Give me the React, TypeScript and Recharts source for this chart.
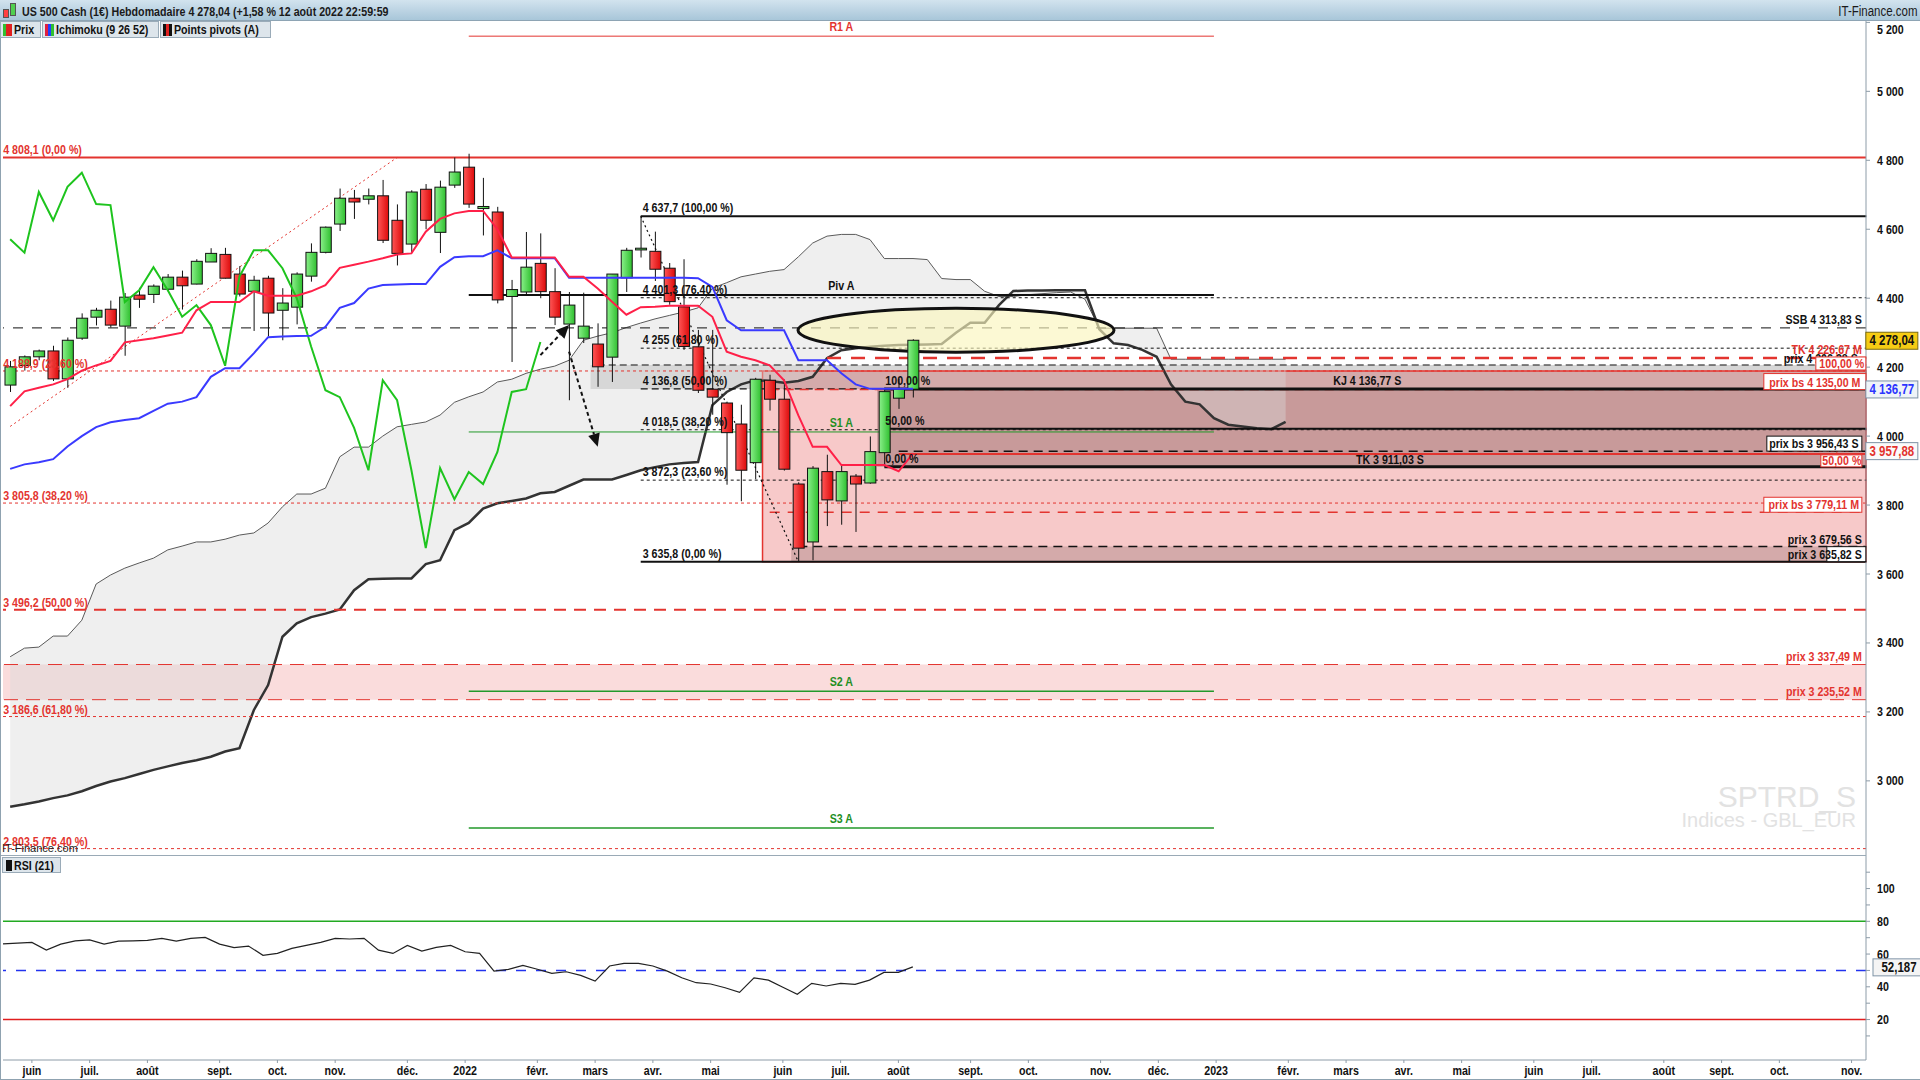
import React from 'react';
import { ComposedChart, Bar, Line, Area, XAxis, YAxis, ReferenceLine, ReferenceArea, ReferenceDot } from 'recharts';

const FONT = "'Liberation Sans', Arial, Helvetica, sans-serif";
const SQUEEZE = 0.82;
const AXIS = '#8d9ca8';
const RED = '#e3342f';
const GREEN_TXT = '#1f8f1f';

const FIRST_WEEK = -32; // week index 0 = week of 3 Jan 2022
const LAST_WEEK = 97;
const PRICE_MIN = 2785;
const PRICE_MAX = 5204;
const RSI_MIN = -4.7;
const RSI_MAX = 120.5;

// Weekly candles, weeks -32 .. 31
const opens = [
  4148, 4205, 4230, 4247, 4166, 4284, 4345, 4368, 4319, 4409,
  4411, 4426, 4461, 4441, 4505, 4527, 4470, 4420, 4458, 4365,
  4374, 4464, 4533, 4615, 4690, 4687, 4697, 4626, 4557, 4716,
  4591, 4728, 4780, 4660, 4650, 4405, 4418, 4501, 4419, 4325,
  4284, 4267, 4229, 4459, 4540, 4536, 4487, 4375, 4259, 4136,
  4096, 4035, 3923, 4162, 4107, 3861, 3693, 3897, 3812, 3884,
  3864, 3952, 4110, 4136,
];
const highs = [
  4218, 4234, 4251, 4262, 4286, 4356, 4372, 4393, 4415, 4430,
  4440, 4470, 4480, 4513, 4545, 4546, 4493, 4465, 4465, 4429,
  4475, 4559, 4608, 4718, 4714, 4718, 4743, 4672, 4713, 4731,
  4741, 4808, 4819, 4749, 4665, 4453, 4592, 4588, 4487, 4418,
  4416, 4327, 4470, 4546, 4637, 4593, 4502, 4513, 4308, 4308,
  4100, 4091, 4169, 4178, 4164, 3866, 3913, 3946, 3918, 3890,
  3999, 4140, 4167, 4281,
];
const lows = [
  4128, 4190, 4220, 4160, 4140, 4279, 4321, 4315, 4233, 4372,
  4386, 4420, 4367, 4440, 4505, 4457, 4405, 4305, 4289, 4278,
  4324, 4448, 4530, 4595, 4630, 4672, 4560, 4495, 4532, 4600,
  4531, 4720, 4662, 4582, 4385, 4215, 4409, 4400, 4322, 4104,
  4270, 4143, 4157, 4418, 4518, 4450, 4381, 4250, 4125, 4062,
  3859, 3811, 3875, 4074, 3900, 3636, 3640, 3739, 3743, 3722,
  3862, 3913, 4079, 4112,
];
const closes = [
  4201, 4230, 4247, 4166, 4278, 4342, 4365, 4322, 4403, 4397,
  4435, 4461, 4436, 4507, 4530, 4458, 4412, 4452, 4357, 4386,
  4470, 4533, 4606, 4690, 4679, 4697, 4568, 4530, 4708, 4626,
  4722, 4766, 4673, 4666, 4395, 4425, 4490, 4419, 4345, 4380,
  4319, 4201, 4470, 4539, 4545, 4484, 4390, 4260, 4133, 4113,
  4010, 3901, 4165, 4107, 3904, 3675, 3907, 3815, 3897, 3861,
  3955, 4129, 4136, 4278,
];

// Ichimoku lines
const tenkan = [
  4087, 4130, 4140, 4150, 4165, 4190, 4205, 4218, 4272, 4278,
  4284, 4292, 4300, 4365, 4389, 4389, 4389, 4420, 4407, 4407,
  4407, 4420, 4438, 4488, 4497, 4506, 4516, 4527, 4530, 4593,
  4630, 4646, 4653, 4653, 4600, 4518, 4518, 4518, 4518, 4462,
  4462, 4428, 4390, 4352, 4374, 4375, 4378, 4378, 4378, 4346,
  4245, 4230, 4220, 4205, 4162, 4060, 3969, 3969, 3916, 3916,
  3916, 3916, 3898, 3950,
];
const kijun = [
  3905, 3918, 3924, 3933, 3970, 4000, 4026, 4040, 4047, 4052,
  4073, 4094, 4100, 4113, 4172, 4197, 4197, 4240, 4287, 4289,
  4290, 4291, 4317, 4372, 4386, 4428, 4438, 4440, 4441, 4441,
  4491, 4519, 4522, 4522, 4539, 4516, 4516, 4516, 4516, 4459,
  4459, 4459, 4459, 4459, 4459, 4459, 4459, 4459, 4458, 4433,
  4336, 4307, 4307, 4307, 4307, 4220, 4220, 4220, 4182, 4150,
  4137, 4137, 4137, 4137,
];
// Chikou span, weeks -32 .. 5
const chikou = [
  4571, 4532, 4708, 4626, 4723, 4764, 4673, 4670, 4389, 4423,
  4490, 4423, 4346, 4380, 4322, 4204, 4463, 4539, 4539, 4487,
  4400, 4260, 4133, 4113, 4024, 3901, 4162, 4104, 3901, 3675,
  3907, 3817, 3896, 3861, 3954, 4128, 4136, 4273,
];
// Cloud boundaries, weeks -32 .. 57
const cloudThin = [
  3360, 3385, 3388, 3420, 3420, 3466, 3571, 3597, 3617, 3632,
  3646, 3670, 3681, 3693, 3693, 3701, 3713, 3719, 3748, 3795,
  3832, 3832, 3849, 3940, 3968, 3968, 4000, 4027, 4034, 4041,
  4061, 4098, 4114, 4128, 4157, 4165, 4182, 4194, 4203, 4220,
  4278, 4290, 4300, 4315, 4328, 4340, 4350, 4360, 4372, 4429,
  4445, 4462, 4470, 4478, 4483, 4520, 4560, 4580, 4585, 4585,
  4570, 4515, 4515, 4515, 4512, 4457, 4454, 4454, 4420, 4405,
  4405, 4410, 4413, 4416, 4418, 4397, 4313, 4313, 4313, 4313,
  4313, 4223, 4223, 4223, 4223, 4223, 4223, 4223, 4223, 4223,
];
const cloudThick = [
  2925, 2932, 2940, 2950, 2958, 2970, 2985, 2998, 3008, 3020,
  3032, 3042, 3052, 3060, 3070, 3085, 3095, 3205, 3278, 3418,
  3457, 3475, 3485, 3497, 3553, 3585, 3586, 3587, 3587, 3629,
  3640, 3727, 3748, 3790, 3805, 3812, 3819, 3834, 3838, 3856,
  3874, 3874, 3874, 3887, 3901, 3910, 3918, 3922, 3925, 4090,
  4128, 4150, 4162, 4160, 4155, 4160, 4172, 4226, 4249, 4255,
  4259, 4262, 4264, 4265, 4266, 4267, 4300, 4329, 4329, 4380,
  4421, 4422, 4422, 4423, 4423, 4423, 4310, 4269, 4264, 4250,
  4230, 4150, 4100, 4092, 4052, 4033, 4028, 4023, 4020, 4041,
];
// RSI(21), weeks -32 .. 31
const rsiValues = [
  66.2, 66.7, 67.1, 62.4, 66.1, 68.1, 68.7, 66.1, 67.9, 68.1,
  68.4, 69.6, 67.9, 69.6, 70.2, 66.1, 63.9, 64.9, 59.2, 60.4,
  63.5, 65.3, 67.1, 69.6, 69.2, 69.6, 62.4, 60.4, 65.3, 61.8,
  64.1, 65.3, 61.4, 60.4, 49.6, 50.7, 53.1, 50.7, 48.2, 49.2,
  47.0, 43.5, 52.7, 54.3, 54.3, 52.7, 49.6, 45.5, 42.5, 41.7,
  39.4, 36.6, 45.5, 44.1, 39.7, 35.4, 42.1, 40.5, 42.1, 41.5,
  44.1, 48.8, 48.8, 52.187,
];

const priceTicks = [3000, 3200, 3400, 3600, 3800, 4000, 4200, 4400, 4600, 4800, 5000, 5200];
const rsiTicks = [10, 20, 30, 40, 50, 60, 70, 80, 90, 100, 110];
const rsiLabelled = [20, 40, 60, 80, 100];
const monthWeeks = [-30, -26, -22, -17, -13, -9, -4, 0, 5, 9, 13, 17, 22, 26, 30, 35, 39, 44, 48, 52, 57, 61, 65, 69, 74, 78, 83, 87, 91, 96];
const monthLabels = ['juin', 'juil.', 'août', 'sept.', 'oct.', 'nov.', 'déc.', '2022', 'févr.', 'mars', 'avr.', 'mai', 'juin', 'juil.', 'août', 'sept.', 'oct.', 'nov.', 'déc.', '2023', 'févr.', 'mars', 'avr.', 'mai', 'juin', 'juil.', 'août', 'sept.', 'oct.', 'nov.'];

const pivotValues = [5160, 4409, 4012, 3260, 2863];
const pivotLabels = ['R1 A', 'Piv A', 'S1 A', 'S2 A', 'S3 A'];
const fibRedValues = [4808.1, 4188.9, 3805.8, 3496.2, 3186.6, 2803.5];
const fibRedLabels = ['4 808,1 (0,00 %)', '4 188,9 (23,60 %)', '3 805,8 (38,20 %)', '3 496,2 (50,00 %)', '3 186,6 (61,80 %)', '2 803,5 (76,40 %)'];
const fibBlackValues = [4637.7, 4401.3, 4255, 4136.8, 4018.5, 3872.3, 3635.8];
const fibBlackLabels = ['4 637,7 (100,00 %)', '4 401,3 (76,40 %)', '4 255 (61,80 %)', '4 136,8 (50,00 %)', '4 018,5 (38,20 %)', '3 872,3 (23,60 %)', '3 635,8 (0,00 %)'];
const fibSmallValues = [4136.77, 4021, 3911.03];
const fibSmallLabels = ['100,00 %', '50,00 %', '0,00 %'];
const lastPrice = 4278.04;
const kijunLast = 4136.77;
const redAxisValue = 3957.88;
const rsiLast = 52.187;

const rows: any[] = [];
for (let w = FIRST_WEEK; w <= LAST_WEEK; w++) {
  const i = w - FIRST_WEEK;
  const r: any = { w };
  if (i < opens.length) {
    r.o = opens[i]; r.h = highs[i]; r.l = lows[i]; r.c = closes[i];
    r.range = [lows[i], highs[i]];
    r.tenkan = tenkan[i]; r.kijun = kijun[i]; r.rsi = rsiValues[i];
  }
  if (i < chikou.length) r.chikou = chikou[i];
  if (i < cloudThin.length) {
    r.thin = cloudThin[i]; r.thick = cloudThick[i];
    r.cloud = [Math.min(cloudThin[i], cloudThick[i]), Math.max(cloudThin[i], cloudThick[i])];
  }
  rows.push(r);
}

const fmtThousands = (v: number) => {
  const s = String(v);
  return s.length > 3 ? s.slice(0, s.length - 3) + ' ' + s.slice(s.length - 3) : s;
};

// condensed bold text (narrow face emulated by horizontal squeeze)
const NText = ({ x, y, anchor = 'start', fill = '#111', size = 13, weight = 700, children }: any) => (
  <text transform={`translate(${x} ${y}) scale(${SQUEEZE} 1)`} x={0} y={0} textAnchor={anchor} fill={fill} fontSize={size} fontWeight={weight} fontFamily={FONT}>{children}</text>
);

const NSpan = ({ children, origin = 'left center', style = {} }: any) => (
  <span style={{ display: 'inline-block', transform: `scaleX(${SQUEEZE})`, transformOrigin: origin, whiteSpace: 'nowrap', fontFamily: FONT, fontWeight: 700, fontSize: 13, color: '#111', ...style }}>{children}</span>
);

const Candle = (p: any) => {
  const { x, y, width, height, payload } = p;
  if (!payload || payload.o == null || !isFinite(y)) return <g />;
  const { o, h, l, c } = payload;
  const span = h - l || 1;
  const yOf = (v: number) => y + ((h - v) / span) * height;
  const top = yOf(Math.max(o, c));
  const bot = yOf(Math.min(o, c));
  const up = c >= o;
  const cx = x + width / 2;
  return (
    <g>
      <line x1={cx} x2={cx} y1={y} y2={y + height} stroke="#111" strokeWidth={1} />
      <rect x={x} y={top} width={width} height={Math.max(bot - top, 1.5)} fill={up ? 'url(#gUp)' : 'url(#gDn)'} stroke="#111" strokeWidth={1} />
    </g>
  );
};

const PriceTick = (p: any) => (
  <NText x={p.x + 5} y={Math.max(p.y, 29) + 4.5}>{fmtThousands(p.payload.value)}</NText>
);
const RsiTick = (p: any) => (
  rsiLabelled.indexOf(p.payload.value) >= 0 ? <NText x={p.x + 5} y={p.y + 4.5}>{p.payload.value}</NText> : <g />
);
const MonthTick = (p: any) => {
  const idx = monthWeeks.indexOf(p.payload.value);
  return <NText x={p.x} y={p.y + 10} anchor="middle">{idx >= 0 ? monthLabels[idx] : ''}</NText>;
};

function label(key: string, w: number, y: number, text: string, o: any = {}) {
  const shape = (p: any) => (
    <g>
      {o.box ? (
        <rect x={p.cx + o.box[0]} y={p.cy + o.box[1]} width={o.box[2]} height={o.box[3]} fill={o.boxFill || '#fff'} stroke={o.boxStroke || RED} strokeWidth={1} />
      ) : null}
      <NText x={p.cx + (o.dx || 0)} y={p.cy + (o.dy || 0)} anchor={o.anchor || 'start'} fill={o.color || '#111'} size={o.size || 13}>{text}</NText>
    </g>
  );
  return <ReferenceDot key={key} x={w} y={y} r={0} ifOverflow="visible" shape={shape} zIndex={2000} />;
}

const segShape = (extend: boolean) => (p: any) => (
  <line x1={p.x1} y1={p.y1} x2={p.x2 + (extend ? 7.5 : 0)} y2={p.y2} stroke={p.stroke} strokeWidth={p.strokeWidth} strokeDasharray={p.strokeDasharray} />
);

function seg(key: string, x1: number, x2: number, y: number, stroke: string, width: number, dash?: string) {
  return (
    <ReferenceLine key={key} segment={[{ x: x1, y }, { x: x2, y }]} stroke={stroke} strokeWidth={width} strokeDasharray={dash} shape={segShape(x2 === LAST_WEEK)} ifOverflow="visible" zIndex={200} />
  );
}

const arrowShape = (p: any) => {
  const { x1, y1, x2, y2 } = p;
  const ang = Math.atan2(y2 - y1, x2 - x1);
  const L = 13, W = 6;
  const bx = x2 - L * Math.cos(ang), by = y2 - L * Math.sin(ang);
  const px = -Math.sin(ang) * W, py = Math.cos(ang) * W;
  return (
    <g>
      <line x1={x1} y1={y1} x2={bx} y2={by} stroke="#111" strokeWidth={2} strokeDasharray="4 3" />
      <polygon points={`${x2},${y2} ${bx + px},${by + py} ${bx - px},${by - py}`} fill="#111" />
    </g>
  );
};

const ellipseShape = (p: any) => (
  <ellipse cx={p.cx} cy={p.cy} rx={158} ry={22} fill="#fbf6bd" fillOpacity={0.65} stroke="#111" strokeWidth={3} />
);

const Btn = ({ left, width, children }: any) => (
  <div style={{ position: 'absolute', left, top: 21, width, height: 17, background: '#dde5eb', border: '1px solid #9aabb8', boxSizing: 'border-box', display: 'flex', alignItems: 'center', gap: 2, paddingLeft: 2, whiteSpace: 'nowrap', overflow: 'hidden' }}>{children}</div>
);
const Sw = ({ colors }: any) => (
  <span style={{ display: 'inline-flex', height: 12, flex: 'none' }}>
    {colors.map((c: string, i: number) => <span key={i} style={{ width: 3, height: 12, background: c, display: 'inline-block' }} />)}
  </span>
);

export default function App() {
  return (
    <div style={{ position: 'absolute', left: 0, top: 0, width: 1920, height: 1080, background: '#fff', overflow: 'hidden' }}>
      {/* main price panel */}
      <div style={{ position: 'absolute', left: 0, top: 0 }}>
        <ComposedChart width={1920} height={855} data={rows} margin={{ top: 21, right: 0, bottom: 0, left: 3 }}>
          <defs>
            <linearGradient id="gUp" x1="0" y1="0" x2="1" y2="0">
              <stop offset="0" stopColor="#8af08a" />
              <stop offset="1" stopColor="#2fbf2f" />
            </linearGradient>
            <linearGradient id="gDn" x1="0" y1="0" x2="1" y2="0">
              <stop offset="0" stopColor="#ff5656" />
              <stop offset="1" stopColor="#dc0a0a" />
            </linearGradient>
          </defs>
          <XAxis dataKey="w" hide />
          <YAxis orientation="right" width={54} domain={[PRICE_MIN, PRICE_MAX]} ticks={priceTicks} interval={0} allowDataOverflow tick={<PriceTick />} tickSize={4} tickLine={{ stroke: AXIS }} axisLine={{ stroke: AXIS }} />

          {/* zones */}
          <ReferenceArea x1={9} x2={LAST_WEEK} y1={4136.8} y2={4206.28} fill="#d6d6d6" fillOpacity={1} stroke="none" zIndex={100} />
          <ReferenceArea y1={3235.52} y2={3337.49} fill="#fadcdc" fillOpacity={1} stroke="none" zIndex={100} />
          <ReferenceArea x1={21} x2={LAST_WEEK} y1={3635.8} y2={4188.9} fill="#f7c9c9" fillOpacity={1} stroke="none" zIndex={100} />
          <ReferenceArea x1={21} x2={LAST_WEEK} y1={4136.8} y2={4188.9} fill="#d4aaaa" fillOpacity={1} stroke="none" zIndex={100} />
          <ReferenceArea x1={29} x2={LAST_WEEK} y1={3911.03} y2={4136.77} fill="#c89a9a" fillOpacity={1} stroke="none" zIndex={100} />
          <ReferenceArea x1={23} x2={LAST_WEEK} y1={3635.8} y2={3679.56} fill="#d4aaaa" fillOpacity={1} stroke="none" zIndex={100} />
          <ReferenceArea x1={21} x2={LAST_WEEK} y1={3635.8} y2={4188.9} fill="none" fillOpacity={0} stroke={RED} strokeWidth={1.5} zIndex={100} />

          {/* cloud */}
          <Area dataKey="cloud" fill="#d8d8d8" fillOpacity={0.42} stroke="none" isAnimationActive={false} connectNulls={false} zIndex={100} />
          <Line dataKey="thin" stroke="#5a5a5a" strokeWidth={1} dot={false} isAnimationActive={false} zIndex={150} />
          <Line dataKey="thick" stroke="#333" strokeWidth={2.5} dot={false} isAnimationActive={false} zIndex={150} />

          {/* full width levels */}
          <ReferenceLine y={fibRedValues[0]} stroke={RED} strokeWidth={2} zIndex={200} />
          <ReferenceLine y={fibRedValues[1]} stroke={RED} strokeWidth={1} strokeDasharray="3 3" zIndex={200} />
          <ReferenceLine y={fibRedValues[2]} stroke={RED} strokeWidth={1} strokeDasharray="3 3" zIndex={200} />
          <ReferenceLine y={fibRedValues[3]} stroke={RED} strokeWidth={2} strokeDasharray="12 8" zIndex={200} />
          <ReferenceLine y={fibRedValues[4]} stroke={RED} strokeWidth={1} strokeDasharray="3 3" zIndex={200} />
          <ReferenceLine y={fibRedValues[5]} stroke={RED} strokeWidth={1} strokeDasharray="3 3" zIndex={200} />
          <ReferenceLine y={4313.83} stroke="#111" strokeWidth={1} strokeDasharray="10 9" zIndex={200} />
          <ReferenceLine y={3337.49} stroke={RED} strokeWidth={1} strokeDasharray="14 8" zIndex={200} />
          <ReferenceLine y={3235.52} stroke={RED} strokeWidth={1} strokeDasharray="14 8" zIndex={200} />

          {/* pivots */}
          {seg('r1', 0, 52, pivotValues[0], RED, 1)}
          {seg('pv', 0, 52, pivotValues[1], '#111', 2)}
          {seg('s1', 0, 52, pivotValues[2], '#22992a', 1)}
          {seg('s2', 0, 52, pivotValues[3], '#22992a', 1.5)}
          {seg('s3', 0, 52, pivotValues[4], '#22992a', 1.5)}

          {/* black fibonacci */}
          {seg('fb0', 12, LAST_WEEK, fibBlackValues[0], '#111', 2)}
          {seg('fb1', 12, LAST_WEEK, fibBlackValues[1], '#111', 1, '3 3')}
          {seg('fb2', 12, LAST_WEEK, fibBlackValues[2], '#111', 1, '3 3')}
          {seg('fb3', 12, LAST_WEEK, fibBlackValues[3], '#111', 1.2, '7 4')}
          {seg('fb4', 12, LAST_WEEK, fibBlackValues[4], '#111', 1, '3 3')}
          {seg('fb5', 12, LAST_WEEK, fibBlackValues[5], '#111', 1, '3 3')}
          {seg('fb6', 12, LAST_WEEK, fibBlackValues[6], '#111', 2)}

          {/* other levels */}
          {seg('tkm', 25, LAST_WEEK, 4226.67, RED, 2.5, '14 10')}
          {seg('p4206', 9, LAST_WEEK, 4206.28, '#111', 1, '7 4')}
          {seg('pbs4135', 21, LAST_WEEK, 4135, RED, 1.5, '9 6')}
          {seg('pbs3779', 21, LAST_WEEK, 3779.11, RED, 1.5, '10 8')}
          {seg('p3679', 23, LAST_WEEK, 3679.56, '#111', 1.5, '9 6')}
          {seg('kjm', 30, LAST_WEEK, 3948.43, RED, 2)}
          {seg('pbs3956', 30, LAST_WEEK, 3956.43, '#111', 1.5, '9 6')}
          {seg('fs0', 29, LAST_WEEK, fibSmallValues[0], '#111', 3)}
          {seg('fs1', 29, LAST_WEEK, fibSmallValues[1], '#111', 2)}
          {seg('fs2', 29, LAST_WEEK, fibSmallValues[2], '#111', 3)}

          {/* diagonals */}
          <ReferenceLine segment={[{ x: -32, y: 4028 }, { x: -5, y: 4808.1 }]} stroke={RED} strokeWidth={1} strokeDasharray="2 3" ifOverflow="visible" zIndex={200} />
          <ReferenceLine segment={[{ x: 12, y: 4637.7 }, { x: 23, y: 3635.8 }]} stroke="#111" strokeWidth={1.2} strokeDasharray="2 3" ifOverflow="visible" zIndex={200} />

          {/* highlighted zone */}
          <ReferenceDot x={34} y={4307} r={0} ifOverflow="visible" shape={ellipseShape} zIndex={250} />

          {/* candles */}
          <Bar dataKey="range" barSize={11} shape={Candle} isAnimationActive={false} zIndex={300} />

          {/* ichimoku */}
          <Line dataKey="chikou" stroke="#1ec41e" strokeWidth={2} dot={false} isAnimationActive={false} zIndex={400} />
          <Line dataKey="kijun" stroke="#3a3aff" strokeWidth={2} dot={false} isAnimationActive={false} zIndex={400} />
          <Line dataKey="tenkan" stroke="#ff2048" strokeWidth={2} dot={false} isAnimationActive={false} zIndex={400} />

          {/* arrows */}
          <ReferenceLine segment={[{ x: 5, y: 4235 }, { x: 7, y: 4322 }]} shape={arrowShape} ifOverflow="visible" zIndex={2000} />
          <ReferenceLine segment={[{ x: 7, y: 4245 }, { x: 9, y: 3969 }]} shape={arrowShape} ifOverflow="visible" zIndex={2000} />

          {/* labels */}
          {fibRedValues.map((v, i) => label('fr' + i, FIRST_WEEK, v, fibRedLabels[i], { dx: -7, dy: -3, color: RED }))}
          {fibBlackValues.map((v, i) => label('fbl' + i, 12, v, fibBlackLabels[i], { dx: 2, dy: -4 }))}
          {fibSmallValues.map((v, i) => label('fsl' + i, 29, v, fibSmallLabels[i], { dx: 1, dy: -4 }))}
          {pivotValues.map((v, i) => label('pl' + i, 26, v, pivotLabels[i], { anchor: 'middle', dy: -5, color: i === 0 ? RED : i === 1 ? '#111' : GREEN_TXT }))}

          {label('ssb', LAST_WEEK, 4313.83, 'SSB 4 313,83 S', { anchor: 'end', dx: 3, dy: -4 })}
          {label('tkm', LAST_WEEK, 4226.67, 'TK 4 226,67 M', { anchor: 'end', dx: 3, dy: -4, color: RED })}
          {label('p4206', LAST_WEEK, 4206.28, 'prix 4 206,28 S', { anchor: 'end', dx: -1, dy: -2 })}
          {label('f100', LAST_WEEK, 4188.9, '100,00 %', { anchor: 'middle', dx: -17, dy: -3, color: RED, box: [-43, -14, 50, 13] })}
          {label('pbs4135', LAST_WEEK, 4135, 'prix bs 4 135,00 M', { anchor: 'middle', dx: -44, dy: -3, color: RED, box: [-95, -16, 102, 16] })}
          {label('kj4136', 62, 4136.77, 'KJ 4 136,77 S', { anchor: 'middle', dx: 10, dy: -4 })}
          {label('kjm', LAST_WEEK, 3948.43, 'KJ 3 948,43 M', { anchor: 'end', dx: 3, dy: -2, color: RED })}
          {label('pbs3956', LAST_WEEK, 3956.43, 'prix bs 3 956,43 S', { anchor: 'middle', dx: -45, dy: -3, box: [-92, -15, 95, 15], boxStroke: '#111' })}
          {label('f50', LAST_WEEK, 3948.43, '50,00 %', { anchor: 'middle', dx: -17, dy: 11, color: RED, box: [-38, 1, 41, 12] })}
          {label('tk3911', 64, 3911.03, 'TK 3 911,03 S', { anchor: 'middle', dx: 4, dy: -3 })}
          {label('pbs3779', LAST_WEEK, 3779.11, 'prix bs 3 779,11 M', { anchor: 'middle', dx: -45, dy: -3, color: RED, box: [-95, -15, 98, 15] })}
          {label('p3679', LAST_WEEK, 3679.56, 'prix 3 679,56 S', { anchor: 'end', dx: 3, dy: -3 })}
          {label('p3635', LAST_WEEK, 3635.82, 'prix 3 635,82 S', { anchor: 'end', dx: 3, dy: -3, box: [-32, -15, 39, 15], boxStroke: '#111' })}
          {label('p3337', LAST_WEEK, 3337.49, 'prix 3 337,49 M', { anchor: 'end', dx: 3, dy: -4, color: RED })}
          {label('p3235', LAST_WEEK, 3235.52, 'prix 3 235,52 M', { anchor: 'end', dx: 3, dy: -4, color: RED })}

          {/* axis value boxes */}
          {label('ax1', LAST_WEEK, lastPrice, '4 278,04', { anchor: 'middle', dx: 33, dy: 5, size: 14, box: [7, -8, 52, 17], boxFill: '#f6cc14', boxStroke: '#7a6a10' })}
          {label('ax2', LAST_WEEK, kijunLast, '4 136,77', { anchor: 'middle', dx: 33, dy: 5, size: 14, color: '#2b35ff', box: [7, -8, 52, 17], boxFill: '#eef3f8', boxStroke: '#7f93a6' })}
          {label('ax3', LAST_WEEK, redAxisValue, '3 957,88', { anchor: 'middle', dx: 33, dy: 5, size: 14, color: RED, box: [7, -8, 52, 17], boxFill: '#fafafa', boxStroke: '#7f93a6' })}
        </ComposedChart>
      </div>

      {/* RSI panel */}
      <div style={{ position: 'absolute', left: 0, top: 855 }}>
        <ComposedChart width={1920} height={225} data={rows} margin={{ top: 0, right: 0, bottom: 0, left: 3 }}>
          <XAxis dataKey="w" ticks={monthWeeks} interval={0} height={20} tick={<MonthTick />} tickSize={3} tickLine={{ stroke: AXIS }} axisLine={{ stroke: AXIS }} />
          <YAxis orientation="right" width={54} domain={[RSI_MIN, RSI_MAX]} ticks={rsiTicks} interval={0} allowDataOverflow tick={<RsiTick />} tickSize={4} tickLine={{ stroke: AXIS }} axisLine={{ stroke: AXIS }} />
          <ReferenceLine y={80} stroke="#22aa22" strokeWidth={1.5} />
          <ReferenceLine y={20} stroke="#e01e1e" strokeWidth={1.5} />
          <ReferenceLine y={50} stroke="#2233ee" strokeWidth={1.5} strokeDasharray="10 10" />
          <Line dataKey="rsi" stroke="#222" strokeWidth={1.2} dot={false} isAnimationActive={false} />
          {label('rsiax', LAST_WEEK, rsiLast, '52,187', { anchor: 'middle', dx: 33, dy: 5, size: 14, box: [7, -8, 52, 17], boxFill: '#f4f4f4', boxStroke: '#7f93a6' })}
        </ComposedChart>
      </div>

      {/* frame lines */}
      <div style={{ position: 'absolute', left: 0, top: 855, width: 1866, height: 1, background: '#9aaab6' }} />
      <div style={{ position: 'absolute', left: 0, top: 0, width: 1, height: 1080, background: '#8fa2b0' }} />
      <div style={{ position: 'absolute', left: 0, top: 1079, width: 1920, height: 1, background: '#8fa2b0' }} />

      {/* title bar */}
      <div style={{ position: 'absolute', left: 0, top: 0, width: 1920, height: 21, background: 'linear-gradient(#d2e3ee, #a8c6d9)', borderBottom: '1px solid #8ea4b4', boxSizing: 'border-box' }}>
        <span style={{ position: 'absolute', left: 3, top: 9, width: 4, height: 7, background: '#ff4040', border: '1px solid #555' }} />
        <span style={{ position: 'absolute', left: 10, top: 3, width: 4, height: 11, background: '#50d050', border: '1px solid #555' }} />
        <div style={{ position: 'absolute', left: 22, top: 2 }}>
          <NSpan style={{ color: '#1a1a1a' }}>US 500 Cash (1€) Hebdomadaire 4 278,04 (+1,58 % 12 août 2022 22:59:59</NSpan>
        </div>
        <div style={{ position: 'absolute', right: 3, top: 2 }}>
          <NSpan origin="right center" style={{ fontWeight: 400, fontSize: 14, color: '#1a1a1a' }}>IT-Finance.com</NSpan>
        </div>
      </div>

      {/* legend buttons */}
      <Btn left={0} width={41}><Sw colors={['#30c030', '#e02020', '#e02020']} /><NSpan>Prix</NSpan></Btn>
      <Btn left={42} width={117}><Sw colors={['#e02040', '#2040ff', '#30c030']} /><NSpan>Ichimoku (9 26 52)</NSpan></Btn>
      <Btn left={160} width={111}><Sw colors={['#111', '#e02020', '#111']} /><NSpan>Points pivots (A)</NSpan></Btn>

      {/* rsi legend */}
      <div style={{ position: 'absolute', left: 2, top: 857, width: 59, height: 16, background: '#dde5eb', border: '1px solid #9aabb8', boxSizing: 'border-box', display: 'flex', alignItems: 'center', gap: 2, paddingLeft: 3, overflow: 'hidden' }}>
        <span style={{ width: 6, height: 11, background: '#111', display: 'inline-block', flex: 'none' }} /><NSpan>RSI (21)</NSpan>
      </div>

      {/* source and watermark */}
      <div style={{ position: 'absolute', left: 2, top: 842, fontFamily: FONT, fontSize: 11, color: '#222', whiteSpace: 'nowrap' }}>IT-Finance.com</div>
      <div style={{ position: 'absolute', right: 64, top: 780, fontFamily: FONT, fontSize: 30, color: '#e2e2e2', whiteSpace: 'nowrap' }}>SPTRD_S</div>
      <div style={{ position: 'absolute', right: 64, top: 809, fontFamily: FONT, fontSize: 20, color: '#e2e2e2', whiteSpace: 'nowrap' }}>Indices - GBL_EUR</div>
    </div>
  );
}
